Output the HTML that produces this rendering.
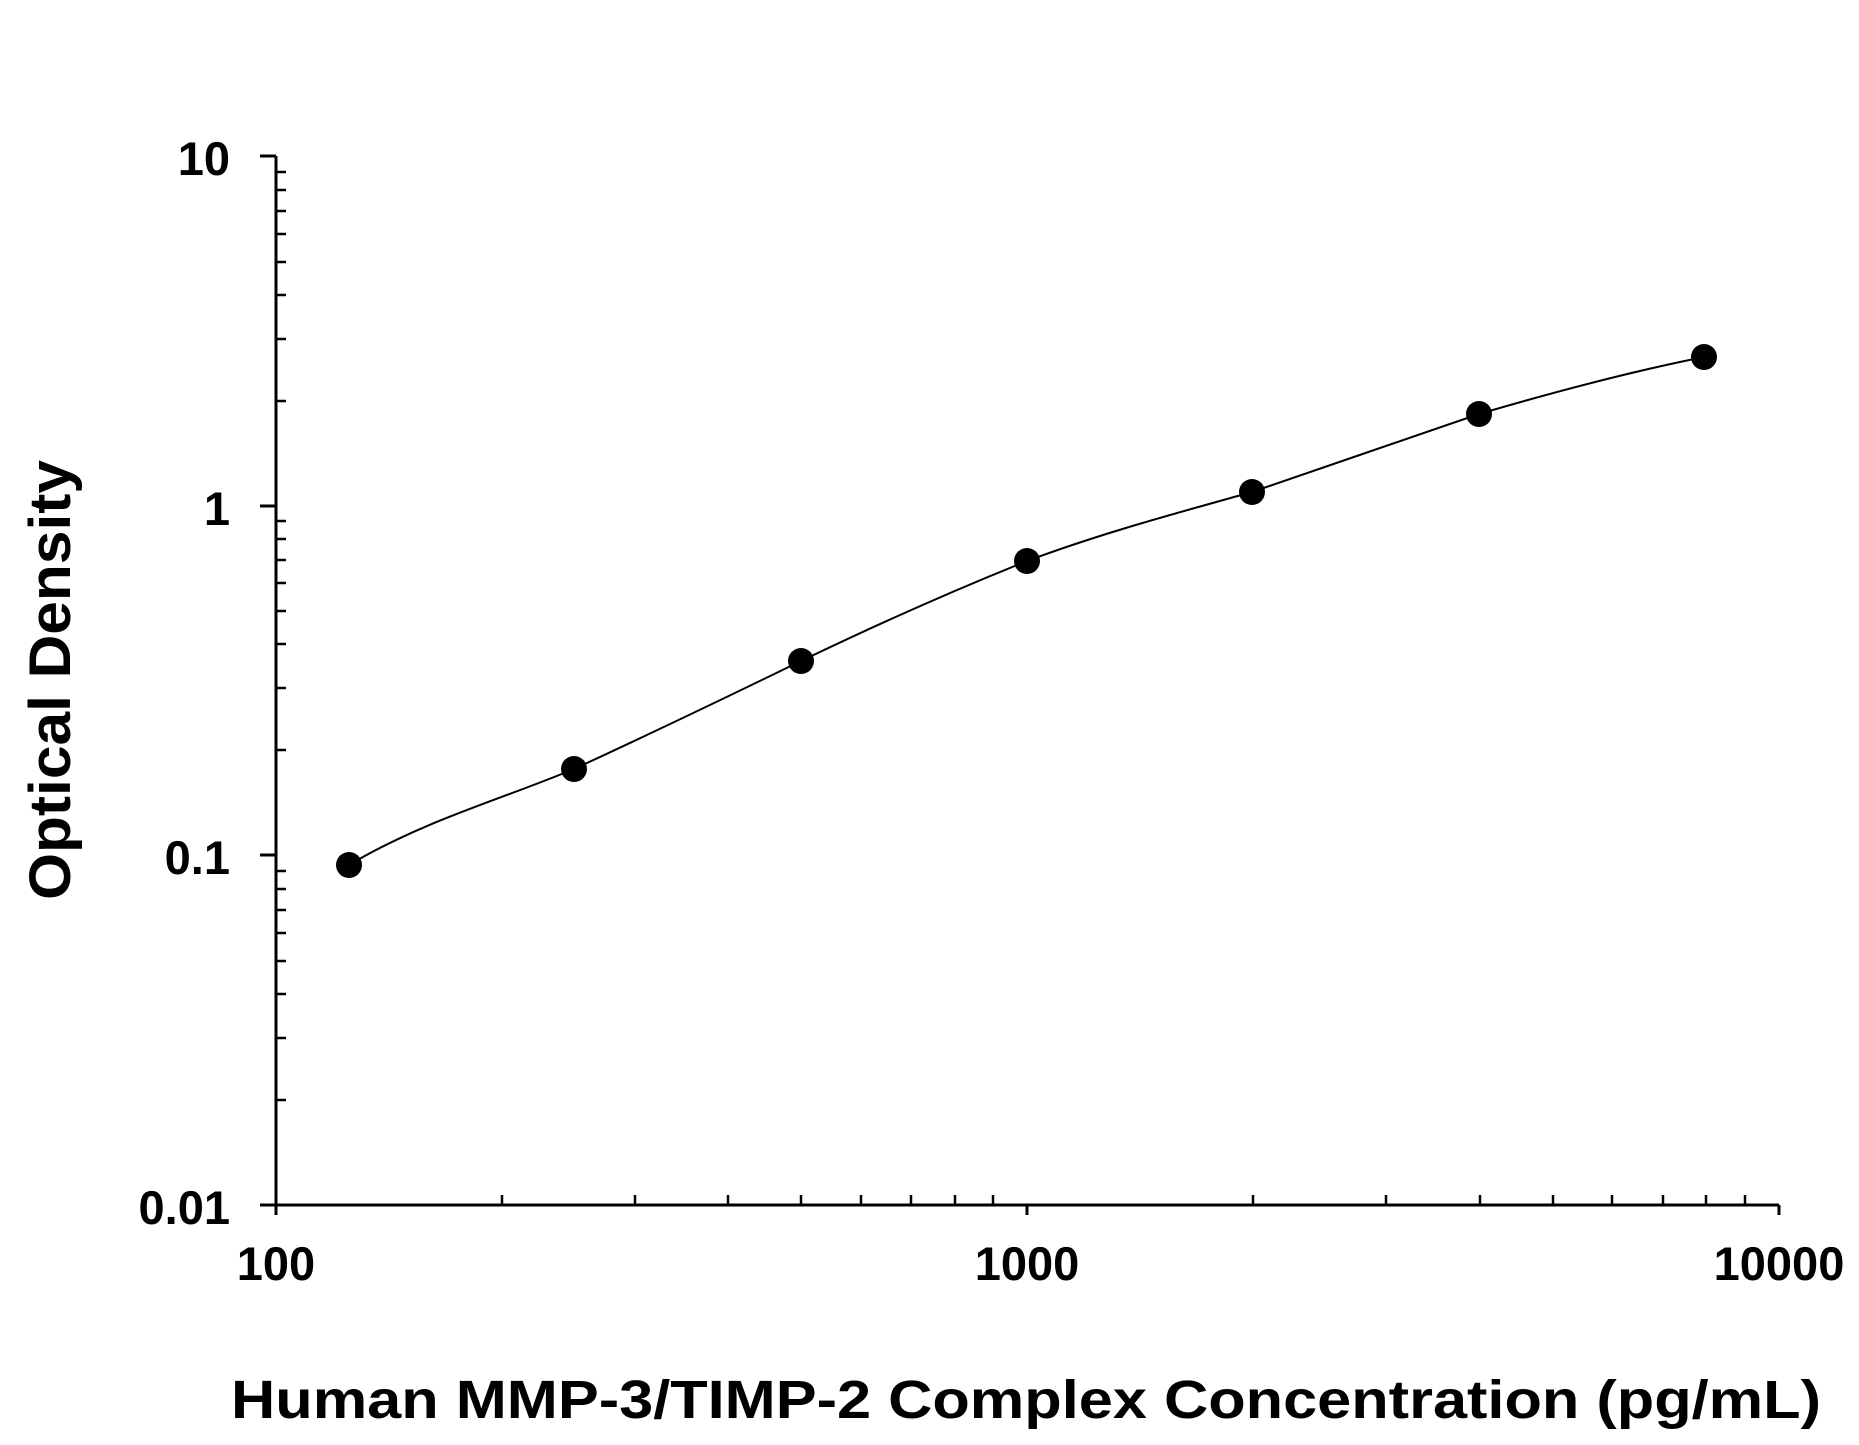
<!DOCTYPE html><html><head><style>body{margin:0;background:#fff}svg{display:block}text{font-family:"Liberation Sans",sans-serif;font-weight:bold;fill:#000}</style></head><body>
<svg width="1859" height="1445" viewBox="0 0 1859 1445" xmlns="http://www.w3.org/2000/svg">
<g stroke="#000" stroke-width="3" fill="none">
<line x1="276" y1="156" x2="276" y2="1215"/>
<line x1="266" y1="1205" x2="1779" y2="1205"/>
<line x1="260" y1="156" x2="276" y2="156"/>
<line x1="260" y1="506" x2="276" y2="506"/>
<line x1="260" y1="855" x2="276" y2="855"/>
<line x1="260" y1="1205" x2="276" y2="1205"/>
<line x1="1779" y1="1205" x2="1779" y2="1215"/>
<line x1="1027" y1="1205" x2="1027" y2="1215"/>
</g>
<g stroke="#000" stroke-width="2.5">
<path d="M276 401h10M276 339h10M276 295h10M276 262h10M276 234h10M276 211h10M276 190h10M276 172h10
M276 750h10M276 688h10M276 644h10M276 611h10M276 583h10M276 560h10M276 539h10M276 521h10
M276 1100h10M276 1038h10M276 994h10M276 961h10M276 933h10M276 910h10M276 889h10M276 871h10"/>
<path d="M502 1205v-10M635 1205v-10M728 1205v-10M801 1205v-10M861 1205v-10M911 1205v-10M955 1205v-10M993 1205v-10
M1253 1205v-10M1386 1205v-10M1480 1205v-10M1553 1205v-10M1612 1205v-10M1663 1205v-10M1706 1205v-10M1745 1205v-10"/>
</g>
<path d="M349 865 C425 820 500 800 574 769 C650 734 725 698 801 661 C876 625 952 591 1027 561 C1102 533 1177 513 1252 492 C1328 466 1403 440 1479 414 C1554 392 1629 372 1704 357" stroke="#000" stroke-width="2" fill="none"/>
<g fill="#000">
<circle cx="349" cy="865" r="13"/><circle cx="574" cy="769" r="13"/><circle cx="801" cy="661" r="13"/><circle cx="1027" cy="561" r="13"/><circle cx="1252" cy="492" r="13"/><circle cx="1479" cy="414" r="13"/><circle cx="1704" cy="357" r="13"/>
</g>
<g font-size="47" text-anchor="end">
<text x="230" y="175">10</text><text x="230" y="525">1</text><text x="230" y="874">0.1</text><text x="230" y="1224">0.01</text>
</g>
<g font-size="47" text-anchor="middle">
<text x="276" y="1280">100</text><text x="1027" y="1280">1000</text><text x="1779" y="1280">10000</text>
</g>
<text x="1026" y="1418" font-size="54" text-anchor="middle" textLength="1590" lengthAdjust="spacingAndGlyphs">Human MMP-3/TIMP-2 Complex Concentration (pg/mL)</text>
<text transform="translate(70,680) rotate(-90)" font-size="58" text-anchor="middle" textLength="440" lengthAdjust="spacingAndGlyphs">Optical Density</text>
</svg></body></html>
